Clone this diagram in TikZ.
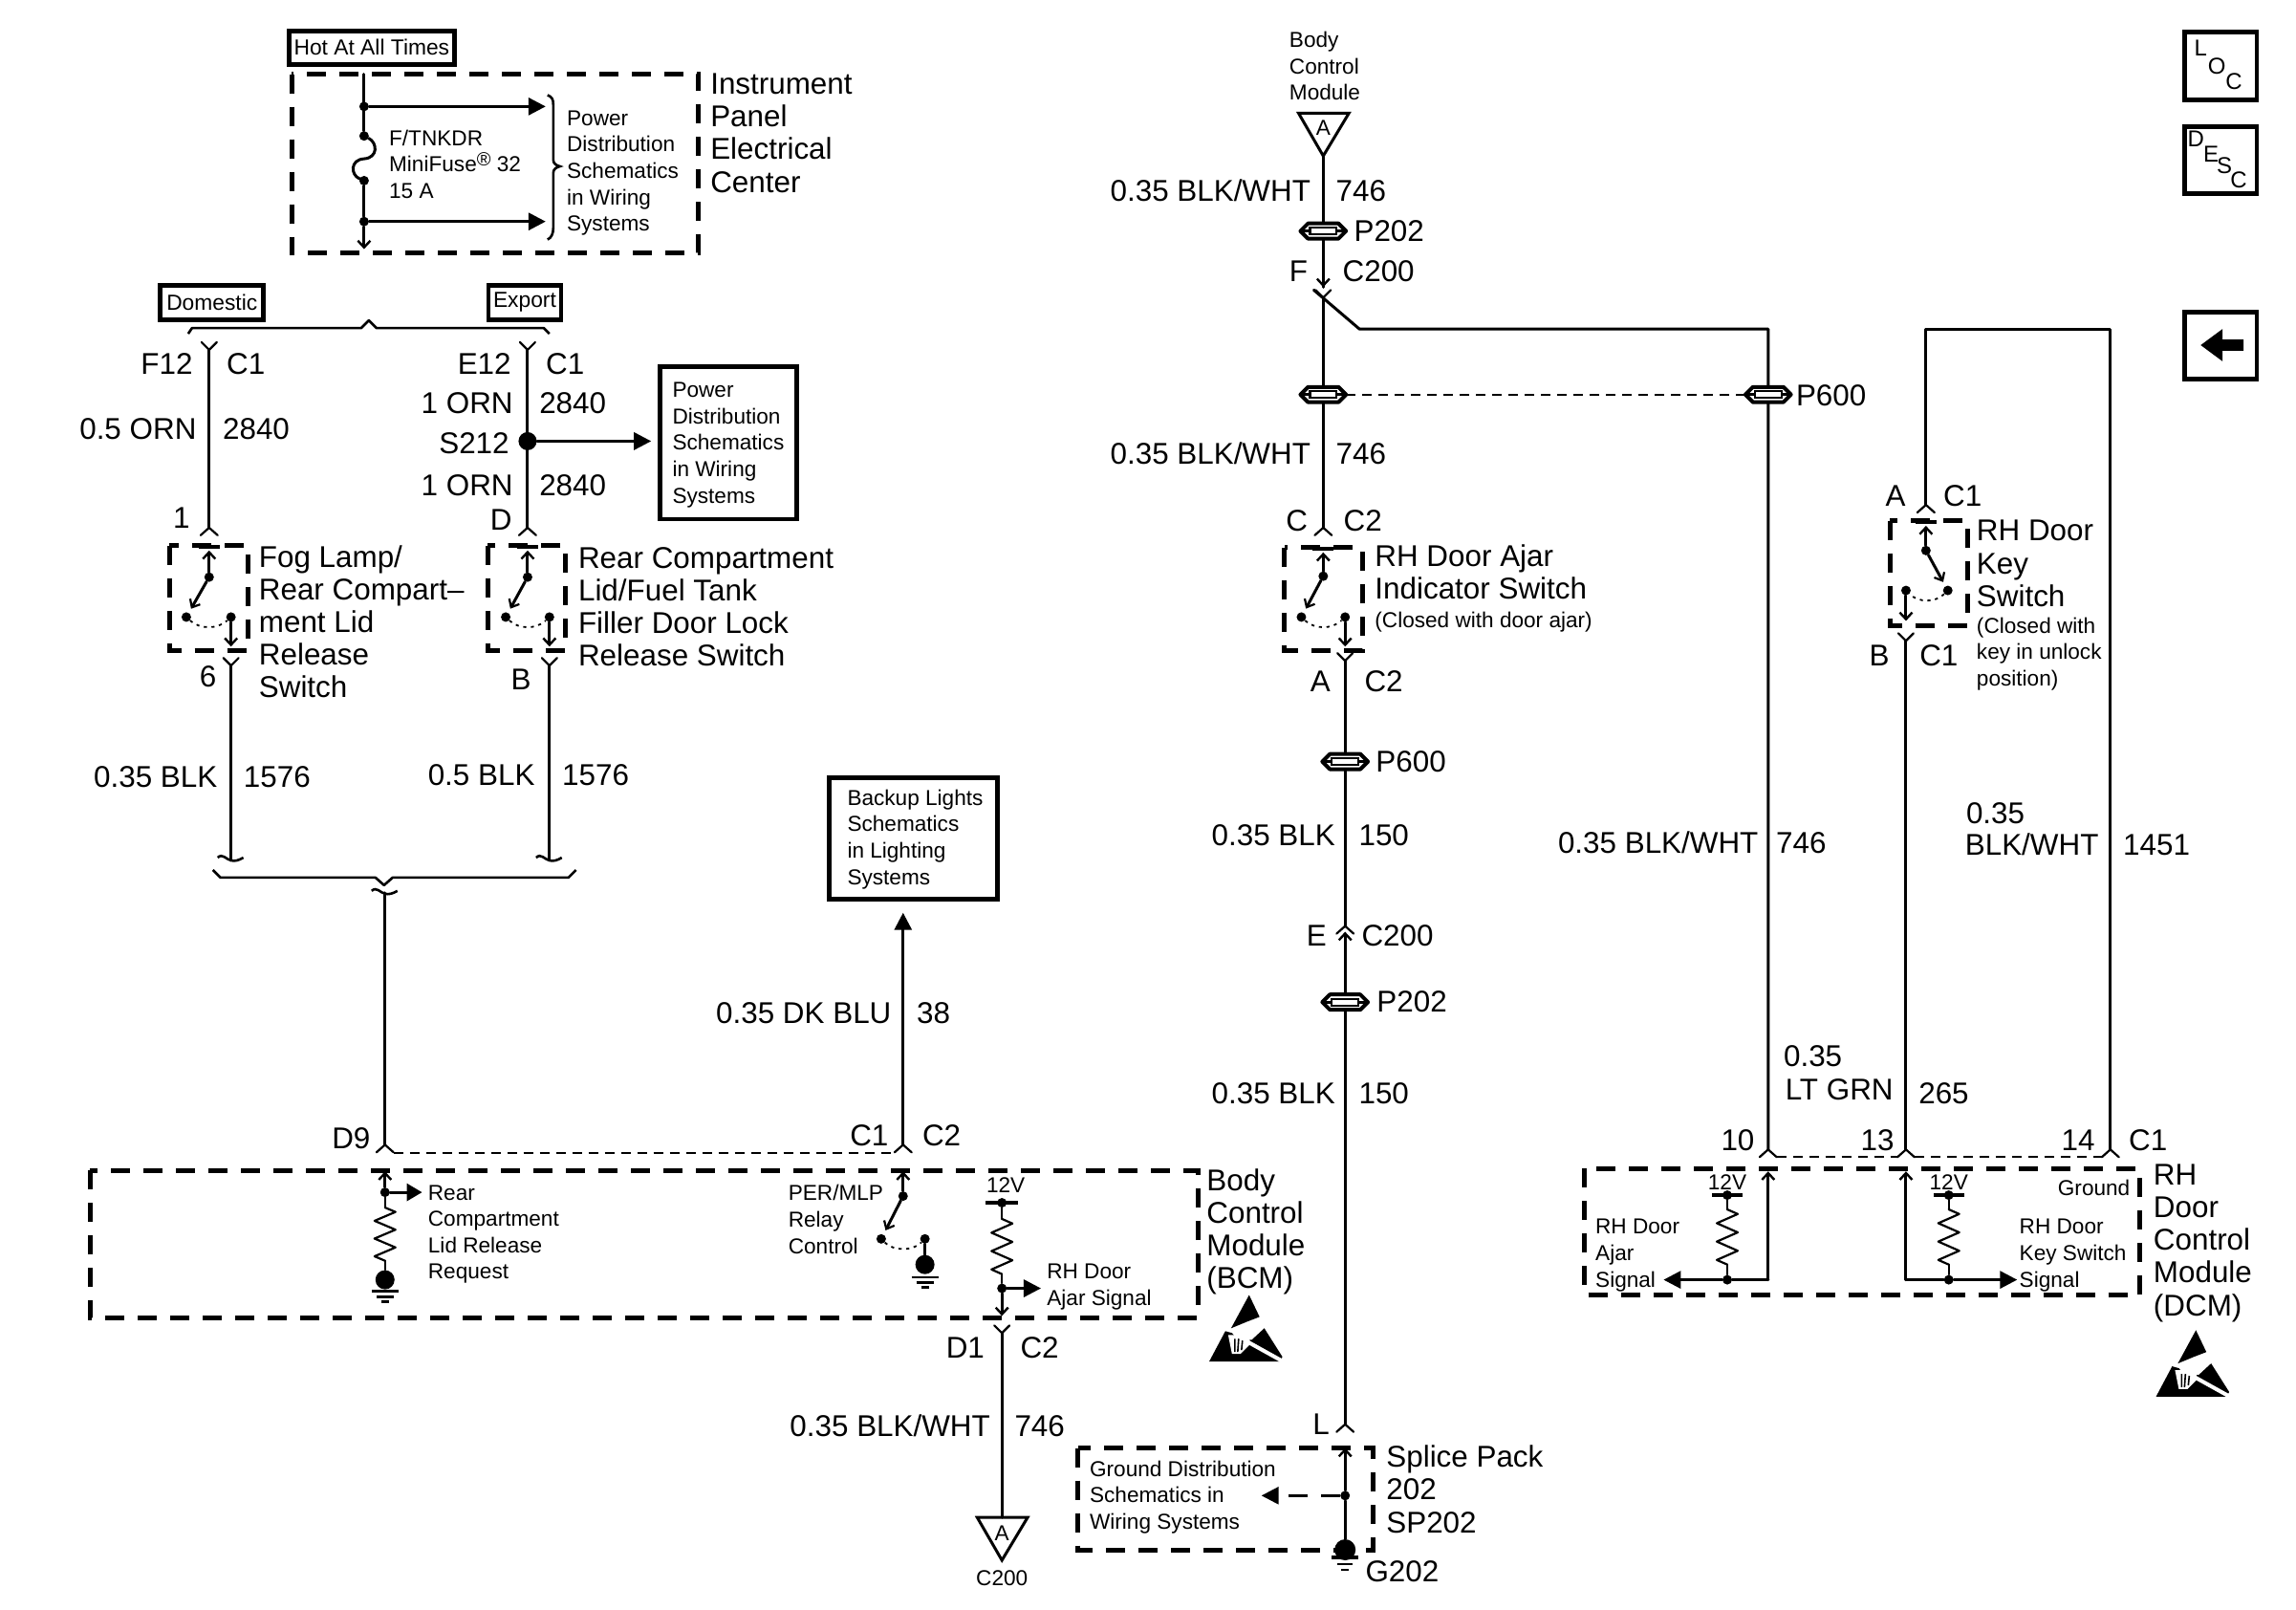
\documentclass[tikz,border=0pt]{standalone}
\usepackage{fontspec}
\setmainfont{Liberation Sans}
\usetikzlibrary{arrows.meta,calc}
\tikzset{
  wire/.style={line width=1.5pt,line cap=round,line join=round},
  thin wire/.style={line width=1.1pt,line cap=round,line join=round},
  dbox/.style={line width=2.5pt,dash pattern=on 10pt off 7pt},
  sbox/.style={draw,line width=2.4pt,inner sep=0pt},
  ddash/.style={line width=1pt,dash pattern=on 5pt off 3.5pt},
  dotarc/.style={line width=.9pt,dash pattern=on 1.6pt off 2.4pt},
  dot/.style={circle,fill=black,inner sep=0pt,minimum size=5pt},
  bigdot/.style={circle,fill=black,inner sep=0pt,minimum size=9.5pt},
  arr/.style={wire,-{Triangle[length=9pt,width=9pt]}},
  open/.style={wire,-{Straight Barb[length=3.5pt,width=6.5pt,line width=1.2pt]}},
  lab/.style={font=\fontsize{15.7}{17.1}\selectfont,inner sep=0pt,text height=11.3pt,text depth=0pt},
  labL/.style={lab,anchor=west},
  labR/.style={lab,anchor=east},
  sm/.style={font=\fontsize{11.3}{13.8}\selectfont,inner sep=0pt,align=left,anchor=north west},
  smc/.style={font=\fontsize{11.3}{13.8}\selectfont,inner sep=0pt,text height=8.1pt,text depth=0pt},
  blk/.style={font=\fontsize{15.7}{17.1}\selectfont,inner sep=0pt,align=left,anchor=north west},
  staggered/.style={font=\fontsize{12}{12}\selectfont,inner sep=0pt,anchor=center},
}
\newcommand{\Chev}[2]{\draw[thin wire] (#1-9,#2+8)--(#1,#2)--(#1+9,#2+8);}
\newcommand{\Fork}[2]{\draw[thin wire] (#1-8,#2-8)--(#1,#2)--(#1+8,#2-8);}
\newcommand{\Gnd}[2]{\draw[line width=1.1pt] (#1-14,#2)--(#1+14,#2) (#1-9,#2+6)--(#1+9,#2+6) (#1-4,#2+11)--(#1+4,#2+11);}
\newcommand{\Res}[3]{\pgfmathsetmacro{\st}{(#3-#2)/6}
  \draw[thin wire] (#1,#2)--(#1+11,#2+.5*\st)--(#1-11,#2+1.5*\st)--(#1+11,#2+2.5*\st)--(#1-11,#2+3.5*\st)--(#1+11,#2+4.5*\st)--(#1-11,#2+5.5*\st)--(#1,#3);}
\newcommand{\Tilde}[2]{\draw[line width=1.3pt] (#1-14,#2-1) .. controls (#1-9,#2-6) and (#1-5,#2+1) .. (#1,#2+2) .. controls (#1+4,#2+3) and (#1+8,#2+2) .. (#1+13,#2-1);}
\newcommand{\Pass}[2]{\filldraw[fill=white,line width=2pt,line join=round] (#1-24,#2)--(#1-16,#2-8)--(#1+16,#2-8)--(#1+24,#2)--(#1+16,#2+8)--(#1-16,#2+8)--cycle;
  \draw[line width=1.4pt] (#1-23,#2)--(#1-14,#2) (#1+14,#2)--(#1+23,#2);
  \draw[line width=1.1pt] (#1-14,#2-3.5) rectangle (#1+14,#2+3.5);}
% name, pivot x, bottom x, contact x, bar y, pivot y, contact y, arrow tip y
\newcommand{\SwSym}[8]{
  \draw[line width=2pt] (#2-11,#5)--(#2+11,#5);
  \node[dot] (#1p) at (#2,#6) {};
  \node[dot] (#1c) at (#4,#7) {};
  \node[dot] (#1b) at (#3,#7) {};
  \coordinate (#1t) at (#2,#5+4);
  \coordinate (#1e) at (#3,#8);
  \draw[open] (#1p)--(#1t);
  \draw[open] (#1b)--(#1e);
  \draw[wire,-{Straight Barb[length=3.5pt,width=6pt,line width=1.1pt]}] (#1p)--($(#1c)!5pt!(#1p)$);
  \draw[dotarc] (#1c) .. controls ($(#1c)!.3!(#1b)+(0,13)$) and ($(#1c)!.7!(#1b)+(0,13)$) .. (#1b);
}
\newcommand{\ESD}[2]{\begin{scope}[shift={(#1,#2)}]
  \fill (42,0)--(53,23)--(40,28)--(23,35)--cycle;
  \fill (0,70)--(17,38)--(24,40)--(30,47)--(45,47)--(58,35)--(77,65)--(74,70)--cycle;
  \fill[white] (20,42)--(42,42)--(43,52)--(33,62)--(24,62)--cycle;
  \draw[white,line width=2pt] (40,49)--(76,69);
  \draw[line width=.8pt] (27,46)--(27,60) (31,46)--(30,60) (35,48)--(34,58);
\end{scope}}
\begin{document}
\begin{tikzpicture}[x=.49725pt,y=-.49725pt]
\useasboundingbox (0,0) rectangle (2415.3,1693.3);
\fill[white] (0,0) rectangle (2415.3,1693.3);

% ---- Instrument panel
\node[sbox,minimum width=86.5pt,minimum height=17.5pt,font=\fontsize{11.4}{11.4}\selectfont] (hot) at (391,50) {Hot At All Times};
\draw[dbox] (307,78) rectangle (735,266);
\coordinate (ft) at (383,78);
\coordinate (fb) at (383,262);
\node[dot] (f1) at (383,112) {};
\node[dot] (f2) at (383,143) {};
\node[dot] (f3) at (383,190) {};
\node[dot] (f4) at (383,233) {};
\coordinate (ar1) at (574,112);
\coordinate (ar2) at (574,233);
\draw[wire] (ft)--(f2) (f3)--(f4);
\draw[open] (f4)--(fb);
\draw[wire] (f2) .. controls (397,150) and (398,166) .. (383,167) .. controls (368,168) and (369,184) .. (f3);
\draw[arr] (f1)--(ar1);
\draw[arr] (f4)--(ar2);
\draw[line width=1.3pt] (576,100) .. controls (581,102) and (582,105) .. (582,110) -- (582,168) .. controls (582,172) and (585,174) .. (589,175) .. controls (585,176) and (582,178) .. (582,182) -- (582,240) .. controls (582,246) and (580,250) .. (576,252);
\node[sm,anchor=north west] (t1) at (596,116) {Power\\Distribution\\Schematics\\in Wiring\\Systems};
\node[sm] (t2) at (409,136) {F/TNKDR\\MiniFuse\raisebox{3pt}{\fontsize{10}{10}\selectfont ®} 32\\15 A};
\node[blk] (ipec) at (747,77) {Instrument\\Panel\\Electrical\\Center};

% ---- Domestic / Export
\node[sbox,minimum width=54pt,minimum height=18pt,font=\fontsize{11.4}{11.4}\selectfont] (dom) at (223,318) {Domestic};
\node[sbox,minimum width=38pt,minimum height=18pt,font=\fontsize{11.4}{11.4}\selectfont] (exp) at (552,318) {Export};
\draw[line width=1.3pt,line join=round] (198,351)--(202,345)--(380,345)--(388,337)--(396,345)--(572,345)--(578,351);

% ---- Left switch
\coordinate (a1) at (220,368);
\coordinate (a2) at (220,555);
\Fork{220}{368}
\draw[wire] (a1)--(a2);
\Chev{220}{555}
\node[labR] (l1) at (203,382) {F12};
\node[labL] (l2) at (238,382) {C1};
\node[labR] (l3) at (207,451) {0.5 ORN};
\node[labL] (l4) at (234,451) {2840};
\node[labR] (l5) at (200,544) {1};
\draw[dbox] (178,574) rectangle (261,684);
\SwSym{sa}{220}{243}{196}{575}{607}{649}{680}
\Fork{243}{700}
\coordinate (a3) at (243,700);
\coordinate (a4) at (243,904);
\draw[wire] (a3)--(a4);
\Tilde{243}{903}
\node[labR] (l6) at (228,711) {6};
\node[blk] (fog) at (272,573) {Fog Lamp/\\Rear Compart--\\ment Lid\\Release\\Switch};
\node[labR] (l7) at (229,817) {0.35 BLK};
\node[labL] (l8) at (256,817) {1576};

% ---- Right switch
\coordinate (b1) at (555,368);
\coordinate (b2) at (555,555);
\Fork{555}{368}
\node[bigdot] (s212) at (555,464) {};
\coordinate (s2a) at (685,464);
\draw[wire] (b1)--(b2);
\draw[arr] (s212)--(s2a);
\Chev{555}{555}
\node[labR] (r1) at (538,382) {E12};
\node[labL] (r2) at (574,382) {C1};
\node[labR] (r3) at (540,424) {1 ORN};
\node[labL] (r4) at (567,424) {2840};
\node[labR] (r5) at (536,466) {S212};
\node[labR] (r6) at (540,510) {1 ORN};
\node[labL] (r7) at (567,510) {2840};
\node[labR] (r8) at (539,546) {D};
\draw[line width=2.4pt] (694,386) rectangle (838,546);
\node[sm] (pw2) at (707,402) {Power\\Distribution\\Schematics\\in Wiring\\Systems};
\draw[dbox] (513,574) rectangle (595,684);
\SwSym{sb}{555}{578}{532}{575}{607}{649}{680}
\Fork{578}{700}
\coordinate (b3) at (578,700);
\coordinate (b4) at (578,904);
\draw[wire] (b3)--(b4);
\Tilde{578}{903}
\node[labR] (r9) at (559,714) {B};
\node[blk] (rc) at (608,575) {Rear Compartment\\Lid/Fuel Tank\\Filler Door Lock\\Release Switch};
\node[labR] (r10) at (563,815) {0.5 BLK};
\node[labL] (r11) at (591,815) {1576};

% ---- merge brace
\draw[line width=1.3pt,line join=round] (224,915)--(232,923)--(395,923)--(404,931)--(413,923)--(598,923)--(606,915);
\Tilde{405}{938}
\coordinate (m1) at (405,939);
\coordinate (m2) at (405,1204);
\draw[wire] (m1)--(m2);

% ---- Backup
\draw[line width=2.4pt] (872,818) rectangle (1049,946);
\node[sm] (bk) at (891,830) {Backup Lights\\Schematics\\in Lighting\\Systems};
\coordinate (c1) at (950,1204);
\coordinate (c2) at (950,960);
\draw[arr] (c1)--(c2);
\node[labR] (c3) at (938,1065) {0.35 DK BLU};
\node[labL] (c4) at (964,1065) {38};

% ---- BCM
\node[labR] (d9) at (390,1197) {D9};
\node[labR] (c5) at (935,1194) {C1};
\node[labL] (c6) at (970,1194) {C2};
\Chev{405}{1204}
\Chev{950}{1204}
\coordinate (dd1) at (414,1213);
\coordinate (dd2) at (941,1213);
\draw[ddash] (dd1)--(dd2);
\draw[dbox] (95,1231) rectangle (1260,1386);
\node[dot] (e1) at (405,1254) {};
\coordinate (e1t) at (405,1232);
\coordinate (e1a) at (444,1254);
\draw[open] (e1)--(e1t);
\draw[wire,-{Triangle[length=8pt,width=9pt]}] (e1)--(e1a);
\draw[thin wire] (e1)--(405,1270);
\Res{405}{1270}{1326}
\node[circle,fill,inner sep=0pt,minimum size=10pt] (e2) at (405,1346) {};
\draw[thin wire] (405,1326)--(e2);
\Gnd{405}{1358}
\node[sm] (rcl) at (450,1246) {Rear\\Compartment\\Lid Release\\Request};
\node[sm] (per) at (829,1246) {PER/MLP\\Relay\\Control};
\node[dot] (g1) at (950,1258) {};
\coordinate (g1t) at (950,1232);
\draw[open] (g1)--(g1t);
\node[dot] (g2) at (927,1303) {};
\node[dot] (g3) at (973,1303) {};
\draw[wire,-{Straight Barb[length=3.5pt,width=6pt,line width=1.1pt]}] (g1)--($(g2)!5pt!(g1)$);
\draw[dotarc] (g2) .. controls (940,1316) and (960,1316) .. (g3);
\node[circle,fill,inner sep=0pt,minimum size=10pt] (g4) at (973,1330) {};
\draw[wire] (g3)--(g4);
\Gnd{973}{1343}
\node[smc] (v12a) at (1058,1246) {12V};
\draw[line width=2pt] (1037,1265)--(1071,1265);
\node[dot] (h1) at (1054,1265) {};
\draw[thin wire] (h1)--(1054,1282);
\Res{1054}{1282}{1340}
\node[dot] (h2) at (1054,1355) {};
\draw[thin wire] (1054,1340)--(h2);
\coordinate (h2b) at (1054,1384);
\draw[open] (h2)--(h2b);
\coordinate (h2a) at (1095,1355);
\draw[arr] (h2)--(h2a);
\node[sm] (rha) at (1101,1329) {RH Door\\Ajar Signal};
\node[blk] (bcm) at (1269,1229) {Body\\Control\\Module\\(BCM)};
\ESD{1272}{1362}
\Fork{1054}{1402}
\coordinate (i1) at (1054,1402);
\coordinate (i2) at (1054,1596);
\draw[wire] (i1)--(i2);
\node[labR] (d1) at (1036,1417) {D1};
\node[labL] (c22) at (1073,1417) {C2};
\node[labR] (bw) at (1042,1499) {0.35 BLK/WHT};
\node[labL] (n746) at (1067,1499) {746};
\draw[wire,line join=miter] (1028,1596)--(1081,1596)--(1054,1641)--cycle;
\node[smc] (a7) at (1054,1612) {A};
\node[smc] (c200b) at (1054,1660) {C200};

% ---- Centre upper
\node[sm] (bcmtop) at (1356,33) {Body\\Control\\Module};
\draw[wire,line join=miter] (1366,119)--(1419,119)--(1392,164)--cycle;
\node[smc] (a8) at (1392,134) {A};
\coordinate (j1) at (1392,164);
\coordinate (j2) at (1392,302);
\draw[wire] (j1)--(j2);
\draw[wire,-{Straight Barb[length=3.5pt,width=6.5pt,line width=1.2pt]}] (1392,262)--(j2);
\Pass{1392}{243}
\node[labR] (j3) at (1379,200) {0.35 BLK/WHT};
\node[labL] (j4) at (1405,200) {746};
\node[labL] (j5) at (1424,243) {P202};
\node[labR] (j6) at (1376,285) {F};
\node[labL] (j7) at (1412,285) {C200};
\Fork{1392}{313}
\coordinate (j8) at (1392,313);
\coordinate (j9) at (1392,555);
\coordinate (k1) at (1430,346);
\coordinate (k2) at (1860,346);
\coordinate (k3) at (1860,1209);
\draw[wire] (j8)--(j9);
\draw[wire] (1382,305)--(k1)--(k2)--(k3);
\coordinate (p1) at (1416,415);
\coordinate (p2) at (1836,415);
\draw[ddash] (p1)--(p2);
\Pass{1392}{415}
\Pass{1860}{415}
\node[labL] (p600a) at (1889,415) {P600};
\node[labR] (j10) at (1379,477) {0.35 BLK/WHT};
\node[labL] (j11) at (1405,477) {746};
\node[labR] (j12) at (1376,547) {C};
\node[labL] (j13) at (1413,547) {C2};
\Chev{1392}{555}
\draw[dbox] (1351,576) rectangle (1433,684);
\SwSym{sc}{1392}{1415}{1369}{577}{606}{649}{680}
\Fork{1415}{695}
\node[labR] (j14) at (1400,716) {A};
\node[labL] (j15) at (1435,716) {C2};
\node[blk] (rhd) at (1446,572) {RH Door Ajar\\Indicator Switch};
\node[sm] (rhc) at (1446,643) {(Closed with door ajar)};

% ---- Centre lower
\coordinate (q1) at (1415,695);
\coordinate (q2) at (1415,974);
\coordinate (q2b) at (1415,980);
\coordinate (q2c) at (1415,1498);
\draw[wire] (q1)--(q2);
\draw[wire,{Straight Barb[length=3.5pt,width=6.5pt,line width=1.2pt]}-] (q2b)--(q2c);
\Pass{1415}{801}
\node[labL] (q3) at (1447,801) {P600};
\node[labR] (q4) at (1405,878) {0.35 BLK};
\node[labL] (q5) at (1429,878) {150};
\node[labR] (q6) at (1396,984) {E};
\node[labL] (q7) at (1432,984) {C200};
\Chev{1415}{974}
\Pass{1415}{1054}
\node[labL] (q8) at (1448,1053) {P202};
\node[labR] (q9) at (1405,1150) {0.35 BLK};
\node[labL] (q10) at (1429,1150) {150};
\Chev{1415}{1498}
\node[labR] (q11) at (1399,1497) {L};

% ---- Splice pack
\draw[dbox] (1134,1523) rectangle (1444,1630);
\node[dot] (u1) at (1415,1573) {};
\coordinate (u0) at (1415,1523);
\node[circle,fill,inner sep=0pt,minimum size=11pt] (u2) at (1415,1630) {};
\draw[open] (u1)--(u0);
\draw[wire] (u1)--(u2);
\draw[line width=1.8pt] (1401,1638)--(1429,1638);
\draw[line width=1.1pt] (1407,1645)--(1423,1645) (1411,1651)--(1419,1651);
\coordinate (u3) at (1327,1573);
\draw[line width=1.4pt,dash pattern=on 10pt off 7pt,-{Triangle[length=9pt,width=9pt]}] (u1)--(u3);
\node[sm] (gd) at (1146,1536) {Ground Distribution\\Schematics in\\Wiring Systems};
\node[blk] (sp) at (1458,1520) {Splice Pack\\202\\SP202};
\node[labL] (g202) at (1436,1652) {G202};

% ---- Right side
\node[labR] (w1) at (1850,886) {0.35 BLK/WHT};
\node[labL] (w2) at (1868,886) {746};
\coordinate (w3) at (2026,531);
\coordinate (w4) at (2220,1209);
\draw[wire] (w3)--(2026,346)--(2220,346)--(w4);
\Chev{2026}{531}
\node[labR] (w5) at (2005,521) {A};
\node[labL] (w6) at (2044,521) {C1};
\draw[dbox] (1988,548) rectangle (2070,658);
\SwSym{sd}{2026}{2005}{2049}{549}{579}{621}{653}
\Fork{2005}{674}
\node[labR] (w7) at (1988,689) {B};
\node[labL] (w8) at (2019,689) {C1};
\node[blk] (rhk) at (2079,547) {RH Door\\Key\\Switch};
\node[sm] (rhk2) at (2079,649) {(Closed with\\key in unlock\\position)};
\coordinate (w9) at (2005,674);
\coordinate (w10) at (2005,1209);
\draw[wire] (w9)--(w10);
\node[labL] (w11) at (2068,855) {0.35};
\node[labR] (w12) at (2208,888) {BLK/WHT};
\node[labL] (w13) at (2233,888) {1451};
\node[labL] (w14) at (1876,1110) {0.35};
\node[labR] (w15) at (1992,1146) {LT GRN};
\node[labL] (w16) at (2018,1150) {265};

% ---- DCM
\node[labR] (v1) at (1846,1199) {10};
\node[labR] (v2) at (1993,1199) {13};
\node[labR] (v3) at (2204,1199) {14};
\node[labL] (v4) at (2239,1199) {C1};
\Chev{1860}{1209}
\Chev{2005}{1209}
\Chev{2220}{1209}
\coordinate (dd3) at (1869,1217);
\coordinate (dd4) at (1996,1217);
\coordinate (dd5) at (2014,1217);
\coordinate (dd6) at (2211,1217);
\draw[ddash] (dd3)--(dd4) (dd5)--(dd6);
\draw[dbox] (1667,1229) rectangle (2251,1362);
\coordinate (x1) at (1860,1232);
\coordinate (x2) at (1860,1346);
\node[dot] (x3) at (1817,1346) {};
\coordinate (x4) at (1750,1346);
\draw[wire,{Straight Barb[length=3.5pt,width=6.5pt,line width=1.2pt]}-] (x1)--(x2);
\draw[wire] (x2)--(x3);
\draw[arr] (x3)--(x4);
\node[smc] (x5) at (1817,1243) {12V};
\draw[line width=2pt] (1801,1257)--(1833,1257);
\node[dot] (x6) at (1817,1257) {};
\draw[thin wire] (x6)--(1817,1272);
\Res{1817}{1272}{1330}
\draw[thin wire] (1817,1330)--(x3);
\node[sm] (x7) at (1678,1282) {RH Door\\Ajar\\Signal};
\coordinate (y1) at (2005,1232);
\coordinate (y2) at (2005,1346);
\node[dot] (y3) at (2050,1346) {};
\coordinate (y4) at (2122,1346);
\draw[wire,{Straight Barb[length=3.5pt,width=6.5pt,line width=1.2pt]}-] (y1)--(y2);
\draw[wire] (y2)--(y3);
\draw[arr] (y3)--(y4);
\node[smc] (y5) at (2050,1243) {12V};
\draw[line width=2pt] (2034,1257)--(2066,1257);
\node[dot] (y6) at (2050,1257) {};
\draw[thin wire] (y6)--(2050,1272);
\Res{2050}{1272}{1330}
\draw[thin wire] (2050,1330)--(y3);
\node[smc,anchor=east] (y7) at (2241,1249) {Ground};
\node[sm] (y8) at (2124,1282) {RH Door\\Key Switch\\Signal};
\node[blk] (dcm) at (2265,1224) {RH\\Door\\Control\\Module\\(DCM)};
\ESD{2268}{1399}

% ---- Navigation buttons
\draw[line width=2.4pt] (2298,34) rectangle (2374,105);
\node[staggered] (L) at (2315,51) {L};
\node[staggered] (O) at (2332,70) {O};
\node[staggered] (C) at (2350,86) {C};
\draw[line width=2.4pt] (2298,133) rectangle (2374,204);
\node[staggered] (D2) at (2310,146) {D};
\node[staggered] (E2) at (2326,162) {E};
\node[staggered] (S2) at (2340,174) {S};
\node[staggered] (C2) at (2355,189) {C};
\draw[line width=2.4pt] (2298,328) rectangle (2374,399);
\fill (2315,363)--(2338,346)--(2338,357)--(2360,357)--(2360,369)--(2338,369)--(2338,380)--cycle;
\end{tikzpicture}
\end{document}
